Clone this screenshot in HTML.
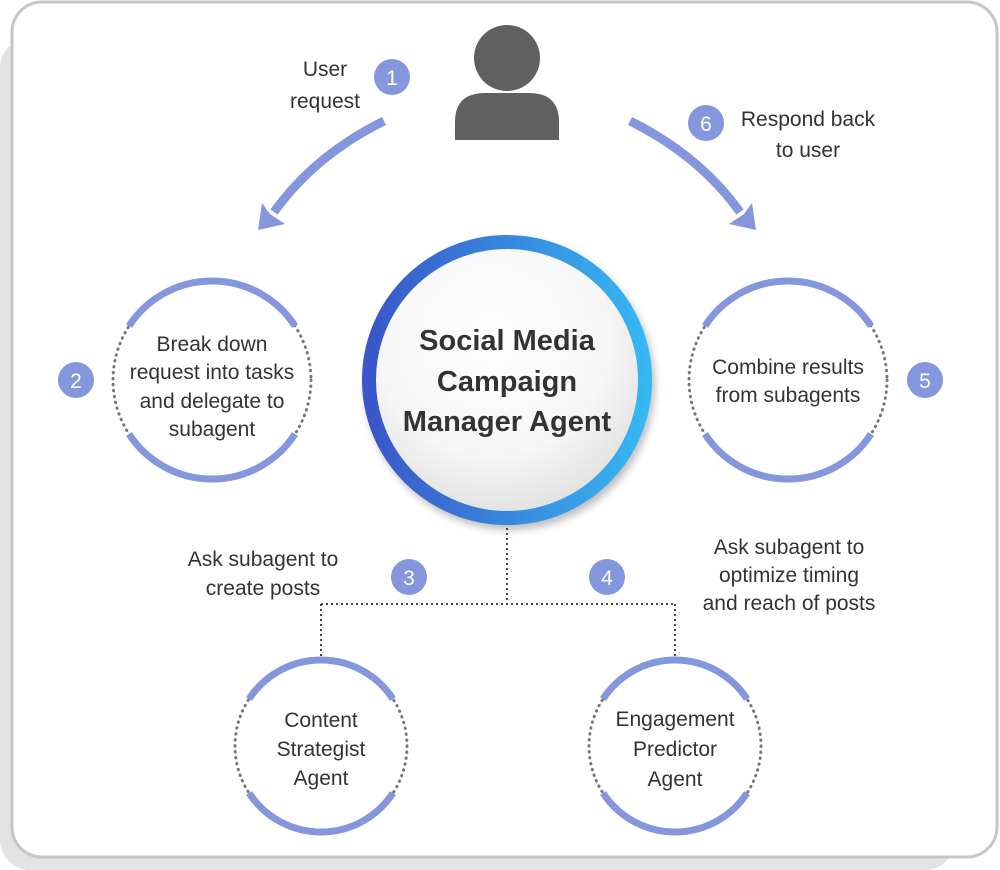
<!DOCTYPE html>
<html><head><meta charset="utf-8"><style>
html,body{margin:0;padding:0;background:#fff;}
svg{display:block}
text{font-family:"Liberation Sans",sans-serif;fill:#333;}
text.w{fill:#fff;}
</style></head><body>
<svg width="1000" height="870" viewBox="0 0 1000 870" xmlns="http://www.w3.org/2000/svg">
<defs>
<linearGradient id="ring" x1="0" y1="0" x2="1" y2="0">
<stop offset="0" stop-color="#3a56c8"/><stop offset="1" stop-color="#36b8f2"/>
</linearGradient>
<radialGradient id="fill" cx="0.45" cy="0.35" r="0.7">
<stop offset="0" stop-color="#ffffff"/><stop offset="0.6" stop-color="#f6f6f6"/><stop offset="1" stop-color="#dcdcdc"/>
</radialGradient>
<filter id="sh" x="-20%" y="-20%" width="140%" height="140%"><feGaussianBlur stdDeviation="4"/></filter>
</defs>
<rect x="0" y="38" width="955" height="832" rx="30" fill="#e3e3e3"/>
<rect x="12" y="2" width="985" height="855" rx="30" fill="#fff" stroke="#c6c6c6" stroke-width="3"/>

<!-- person -->
<circle cx="507" cy="58" r="33" fill="#606060"/>
<path d="M455,140 L455,122 Q455,93 485,93 L529,93 Q559,93 559,122 L559,140 Z" fill="#606060"/>

<!-- arrows -->
<g fill="#8497dd" stroke="#8497dd">
<path d="M384,121 Q315,155 274,212" fill="none" stroke-width="9"/>
<polygon points="258,230 262,203 270,214 285,224" stroke="none"/>
<path d="M630,121 Q699,155 740,212" fill="none" stroke-width="9"/>
<polygon points="756,230 752,203 744,214 729,224" stroke="none"/>
</g>

<!-- center circle -->
<circle cx="510" cy="385" r="145" fill="#000" opacity="0.25" filter="url(#sh)"/>
<circle cx="507" cy="380" r="138" fill="url(#fill)" stroke="url(#ring)" stroke-width="14"/>
<g font-weight="bold" font-size="29" text-anchor="middle">
<text x="507" y="350">Social Media</text>
<text x="507" y="391">Campaign</text>
<text x="507" y="431">Manager Agent</text>
</g>

<!-- side circles -->
<g fill="none">
<g stroke="#777" stroke-width="3" stroke-dasharray="0.5 5.5" stroke-linecap="round">
<circle cx="212" cy="380" r="99"/>
<circle cx="788" cy="380" r="99"/>
<circle cx="321" cy="746" r="86"/>
<circle cx="675" cy="746" r="86"/>
</g>
<path d="M129,326 A99,99 0 0 1 295,326 M129,434 A99,99 0 0 0 295,434" stroke="#8497dd" stroke-width="7"/>
<path d="M705,326 A99,99 0 0 1 871,326 M705,434 A99,99 0 0 0 871,434" stroke="#8497dd" stroke-width="7"/>
<path d="M249,699 A86,86 0 0 1 393,699 M249,793 A86,86 0 0 0 393,793" stroke="#8497dd" stroke-width="7"/>
<path d="M603,699 A86,86 0 0 1 747,699 M603,793 A86,86 0 0 0 747,793" stroke="#8497dd" stroke-width="7"/>
<!-- connectors -->
<path d="M507,528 L507,604 M321,604 L675,604 M321,604 L321,658 M675,604 L675,658" stroke="#444" stroke-width="2" stroke-dasharray="2 3"/>
</g>

<!-- badges -->
<g fill="#8497dd">
<circle cx="392" cy="77" r="18"/><circle cx="706" cy="123" r="18"/>
<circle cx="76" cy="380" r="18"/><circle cx="925" cy="380" r="18"/>
<circle cx="409" cy="577" r="18"/><circle cx="607" cy="577" r="18"/>
</g>
<g font-size="21" text-anchor="middle">
<text class="w" x="392" y="85">1</text><text class="w" x="706" y="131">6</text>
<text class="w" x="76" y="388">2</text><text class="w" x="925" y="388">5</text>
<text class="w" x="409" y="585">3</text><text class="w" x="607" y="585">4</text>
</g>

<g font-size="21" text-anchor="middle">
<text x="325" y="76">User</text>
<text x="325" y="108">request</text>
<text x="808" y="126">Respond back</text>
<text x="808" y="157">to user</text>
<text x="212" y="351">Break down</text>
<text x="212" y="379">request into tasks</text>
<text x="212" y="408">and delegate to</text>
<text x="212" y="436">subagent</text>
<text x="788" y="374">Combine results</text>
<text x="788" y="402">from subagents</text>
<text x="263" y="566">Ask subagent to</text>
<text x="263" y="595">create posts</text>
<text x="789" y="554">Ask subagent to</text>
<text x="789" y="582">optimize timing</text>
<text x="789" y="610">and reach of posts</text>
<text x="321" y="727">Content</text>
<text x="321" y="756">Strategist</text>
<text x="321" y="785">Agent</text>
<text x="675" y="726">Engagement</text>
<text x="675" y="756">Predictor</text>
<text x="675" y="786">Agent</text>
</g>
</svg>
</body></html>
